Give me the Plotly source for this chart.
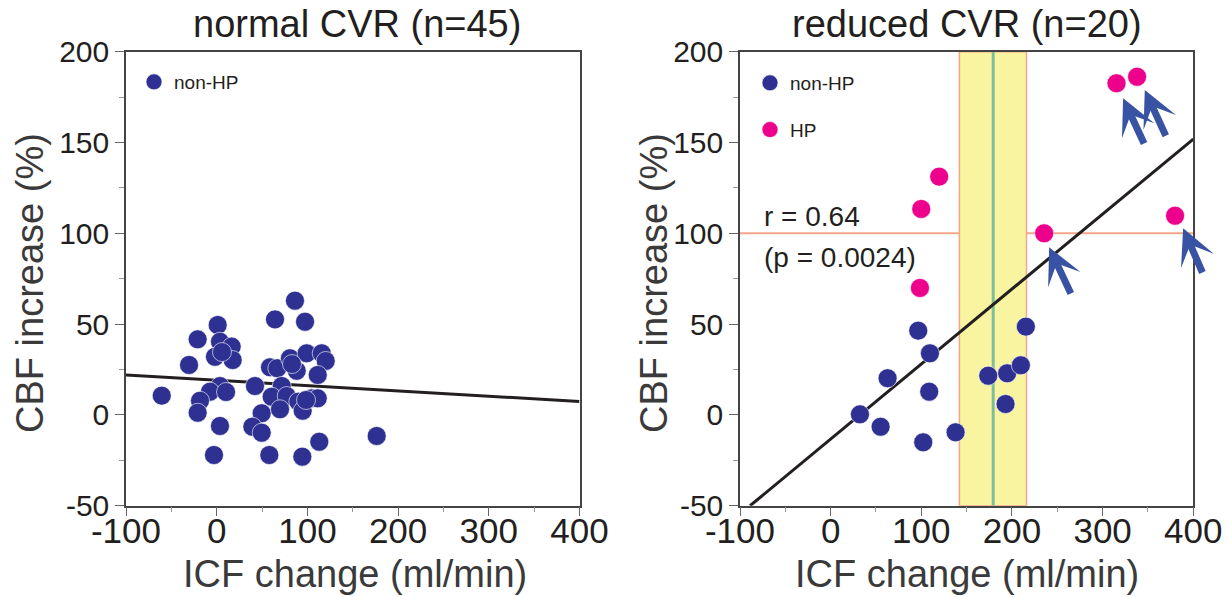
import plotly.graph_objects as go

# ---------------- data ----------------
normal_icf = [86.3, 64.3, 97.4, 1.1, -21.0, 3.6, 16.5, -1.9, 17.6, -30.5,
              -60.6, 3.6, -7.4, -18.4, -21.0, 3.6, -3.0, 42.2, 49.6, 39.3,
              49.6, 58.0, 58.8, 66.8, 80.8, 99.2, 115.8, 120.2, 88.2, 111.4,
              71.7, 60.6, 77.2, 90.0, 69.8, 94.8, 104.7, 111.4, 176.4, 113.1,
              94.4, 98.5, 83.0, 10.3, 5.8]
normal_cbf = [62.9, 52.6, 51.3, 49.5, 41.6, 40.3, 37.6, 32.0, 30.2, 27.5,
              10.6, 15.9, 12.8, 7.8, 1.2, -6.1, -22.1, 15.9, 0.9, -6.5,
              -9.8, -22.1, 26.2, 25.7, 31.2, 33.9, 33.9, 29.7, 24.3, 22.0,
              15.9, 10.0, 10.4, 7.3, 3.1, 2.3, 9.1, 9.1, -11.6, -14.8,
              -23.0, 8.2, 28.0, 12.6, 34.6]

reduced_nonhp_icf = [96.6, 109.5, 62.8, 108.7, 32.3, 55.1, 102.1, 137.8,
                     173.8, 194.7, 209.8, 215.3, 192.9]
reduced_nonhp_cbf = [46.4, 33.9, 20.2, 12.8, 0.3, -6.5, -15.1, -9.6,
                     21.6, 22.9, 27.3, 48.6, 6.0]
reduced_hp_icf = [315.3, 338.0, 119.7, 99.9, 235.5, 379.9, 98.5]
reduced_hp_cbf = [182.6, 186.2, 131.2, 113.4, 100.0, 109.7, 69.9]

normal_fit = {"slope": -0.0293, "intercept": 19.1, "x_from": -100, "x_to": 400}
reduced_fit = {"slope": 0.413, "intercept": -13.3, "x_from": -88.9, "x_to": 400}

band_low, band_mid, band_high = 142, 179.3, 216
reference_cbf = 100

arrow_tip_x = [322.6, 346.5, 241.0, 388.8]
arrow_tip_y = [174.3, 178.9, 92.3, 102.8]
arrow_tail_x = [346.5, 370.4, 265.7, 410.8]
arrow_tail_y = [148.6, 152.9, 66.0, 77.6]

stat_text = ["r = 0.64", "(p = 0.0024)"]
titles = ["normal CVR (n=45)", "reduced CVR (n=20)"]
x_title = "ICF change (ml/min)"
y_title = "CBF increase (%)"
x_ticks = [-100, 0, 100, 200, 300, 400]
x_ticklabels = ["-100", "0", "100", "200", "300", "400"]
y_ticks = [-50, 0, 50, 100, 150, 200]
y_ticklabels = ["-50", "0", "50", "100", "150", "200"]

# ---------------- style ----------------
FONT = "Liberation Sans, Arial, Helvetica, sans-serif"
TXT = "#231f20"
BLUE = "#2e3192"
PINK = "#ec008c"
ARROW = "#3953a4"
YELLOW = "#f8f4a0"
SALMON = "#f4a68b"
GREEN = "#7dbf9c"
FRAME = "#444444"
MS = 19

# the page body adds an 8px margin; size the figure so the window shows it fully
OFF = 8
W, H = 1230 - OFF, 597 - OFF

def px(xp):
    return (xp - OFF) / W

def py(yp):
    return 1 - (yp - OFF) / H

fig = go.Figure()

def fit_line(f):
    xs = [f["x_from"], f["x_to"]]
    return xs, [f["slope"] * v + f["intercept"] for v in xs]

# left panel
lx, ly = fit_line(normal_fit)
fig.add_trace(go.Scatter(x=lx, y=ly, mode="lines", line=dict(color=TXT, width=3),
                         showlegend=False, hoverinfo="skip", xaxis="x", yaxis="y"))
fig.add_trace(go.Scatter(x=normal_icf, y=normal_cbf, mode="markers", name="non-HP",
                         marker=dict(color=BLUE, size=MS, line=dict(color="white", width=0.6)),
                         xaxis="x", yaxis="y", legend="legend", legendgroup="a"))

# right panel
rx, ry = fit_line(reduced_fit)
fig.add_trace(go.Scatter(x=rx, y=ry, mode="lines", line=dict(color=TXT, width=3),
                         showlegend=False, hoverinfo="skip", xaxis="x2", yaxis="y2"))
fig.add_trace(go.Scatter(x=reduced_nonhp_icf, y=reduced_nonhp_cbf, mode="markers", name="non-HP",
                         marker=dict(color=BLUE, size=MS, line=dict(color="white", width=0.6)),
                         xaxis="x2", yaxis="y2", legend="legend2", legendgroup="b"))
fig.add_trace(go.Scatter(x=reduced_hp_icf, y=reduced_hp_cbf, mode="markers", name="HP",
                         marker=dict(color=PINK, size=MS, line=dict(color="white", width=0.6)),
                         xaxis="x2", yaxis="y2", legend="legend2", legendgroup="c"))

YDOM = [py(505.7), py(51.7)]
XDOM1 = [px(126), px(579.5)]
XDOM2 = [px(740), px(1193.3)]

def xaxis(dom, anchor):
    return dict(domain=dom, anchor=anchor, range=[-100, 400], tickvals=x_ticks,
                ticktext=x_ticklabels, automargin=False, ticklabelstandoff=-15,
                showline=True, linecolor=FRAME, linewidth=1.5, mirror=True,
                ticks="outside", ticklen=9, tickwidth=1, tickcolor="#666666",
                minor=dict(dtick=50, tick0=-100, ticks="outside", ticklen=5, tickcolor="#999999"),
                showgrid=False, zeroline=False,
                tickfont=dict(family=FONT, size=35, color=TXT), fixedrange=True)

def yaxis(anchor):
    return dict(domain=YDOM, anchor=anchor, range=[-50, 200], tickvals=y_ticks,
                ticktext=y_ticklabels, automargin=False,
                showline=True, linecolor=FRAME, linewidth=1.5, mirror=True,
                ticks="outside", ticklen=9, tickwidth=1, tickcolor="#666666",
                minor=dict(dtick=25, tick0=-50, ticks="outside", ticklen=5, tickcolor="#999999"),
                showgrid=False, zeroline=False,
                tickfont=dict(family=FONT, size=30, color=TXT), fixedrange=True)

shapes = [
    dict(type="line", xref="x2", yref="y2", x0=-100, x1=400, y0=reference_cbf, y1=reference_cbf,
         line=dict(color=SALMON, width=2), layer="below"),
    dict(type="rect", xref="x2", yref="y2", x0=band_low, x1=band_high, y0=-50, y1=200,
         fillcolor=YELLOW, line=dict(color=SALMON, width=1.5), layer="below"),
    dict(type="line", xref="x2", yref="y2", x0=band_mid, x1=band_mid, y0=-50, y1=200,
         line=dict(color=GREEN, width=3), layer="below"),
]

annotations = []
for t, xc_title, xc_axis in zip(titles, [357, 967], [355, 967]):
    annotations.append(dict(text=t, x=px(xc_title), y=py(24), xref="paper", yref="paper",
                            showarrow=False, xanchor="center", yanchor="middle",
                            font=dict(family=FONT, size=38, color=TXT)))
    annotations.append(dict(text=x_title, x=px(xc_axis), y=py(574), xref="paper", yref="paper",
                            showarrow=False, xanchor="center", yanchor="middle",
                            font=dict(family=FONT, size=38, color="#3a3a3a")))
for xc in [30, 654]:
    annotations.append(dict(text=y_title, x=px(xc), y=py(283), xref="paper", yref="paper",
                            showarrow=False, xanchor="center", yanchor="middle", textangle=-90,
                            font=dict(family=FONT, size=38, color="#3a3a3a")))

annotations.append(dict(text=stat_text[0], x=-76, y=109, xref="x2", yref="y2", showarrow=False,
                        xanchor="left", yanchor="middle", font=dict(family=FONT, size=28, color=TXT)))
annotations.append(dict(text=stat_text[1], x=-76, y=86.5, xref="x2", yref="y2", showarrow=False,
                        xanchor="left", yanchor="middle", font=dict(family=FONT, size=28, color=TXT)))

for tx, ty, ax, ay in zip(arrow_tip_x, arrow_tip_y, arrow_tail_x, arrow_tail_y):
    annotations.append(dict(x=tx, y=ty, ax=ax, ay=ay, xref="x2", yref="y2", axref="x2", ayref="y2",
                            text="", showarrow=True, arrowhead=3, arrowsize=0.85, arrowwidth=7,
                            arrowcolor=ARROW, standoff=0))

legend_common = dict(xanchor="left", yanchor="top", bgcolor="rgba(0,0,0,0)",
                     font=dict(family=FONT, size=19, color=TXT), itemsizing="trace",
                     traceorder="grouped", tracegroupgap=19)

fig.update_layout(
    width=W, height=H,
    margin=dict(l=0, r=0, t=0, b=0, autoexpand=False),
    paper_bgcolor="white", plot_bgcolor="white",
    xaxis=xaxis(XDOM1, "y"), yaxis=yaxis("x"),
    xaxis2=xaxis(XDOM2, "y2"), yaxis2=yaxis("x2"),
    shapes=shapes, annotations=annotations,
    legend=dict(x=px(134), y=py(63), **legend_common),
    legend2=dict(x=px(750), y=py(64), **legend_common),
    font=dict(family=FONT, color=TXT),
)

fig.write_html("out.html")
